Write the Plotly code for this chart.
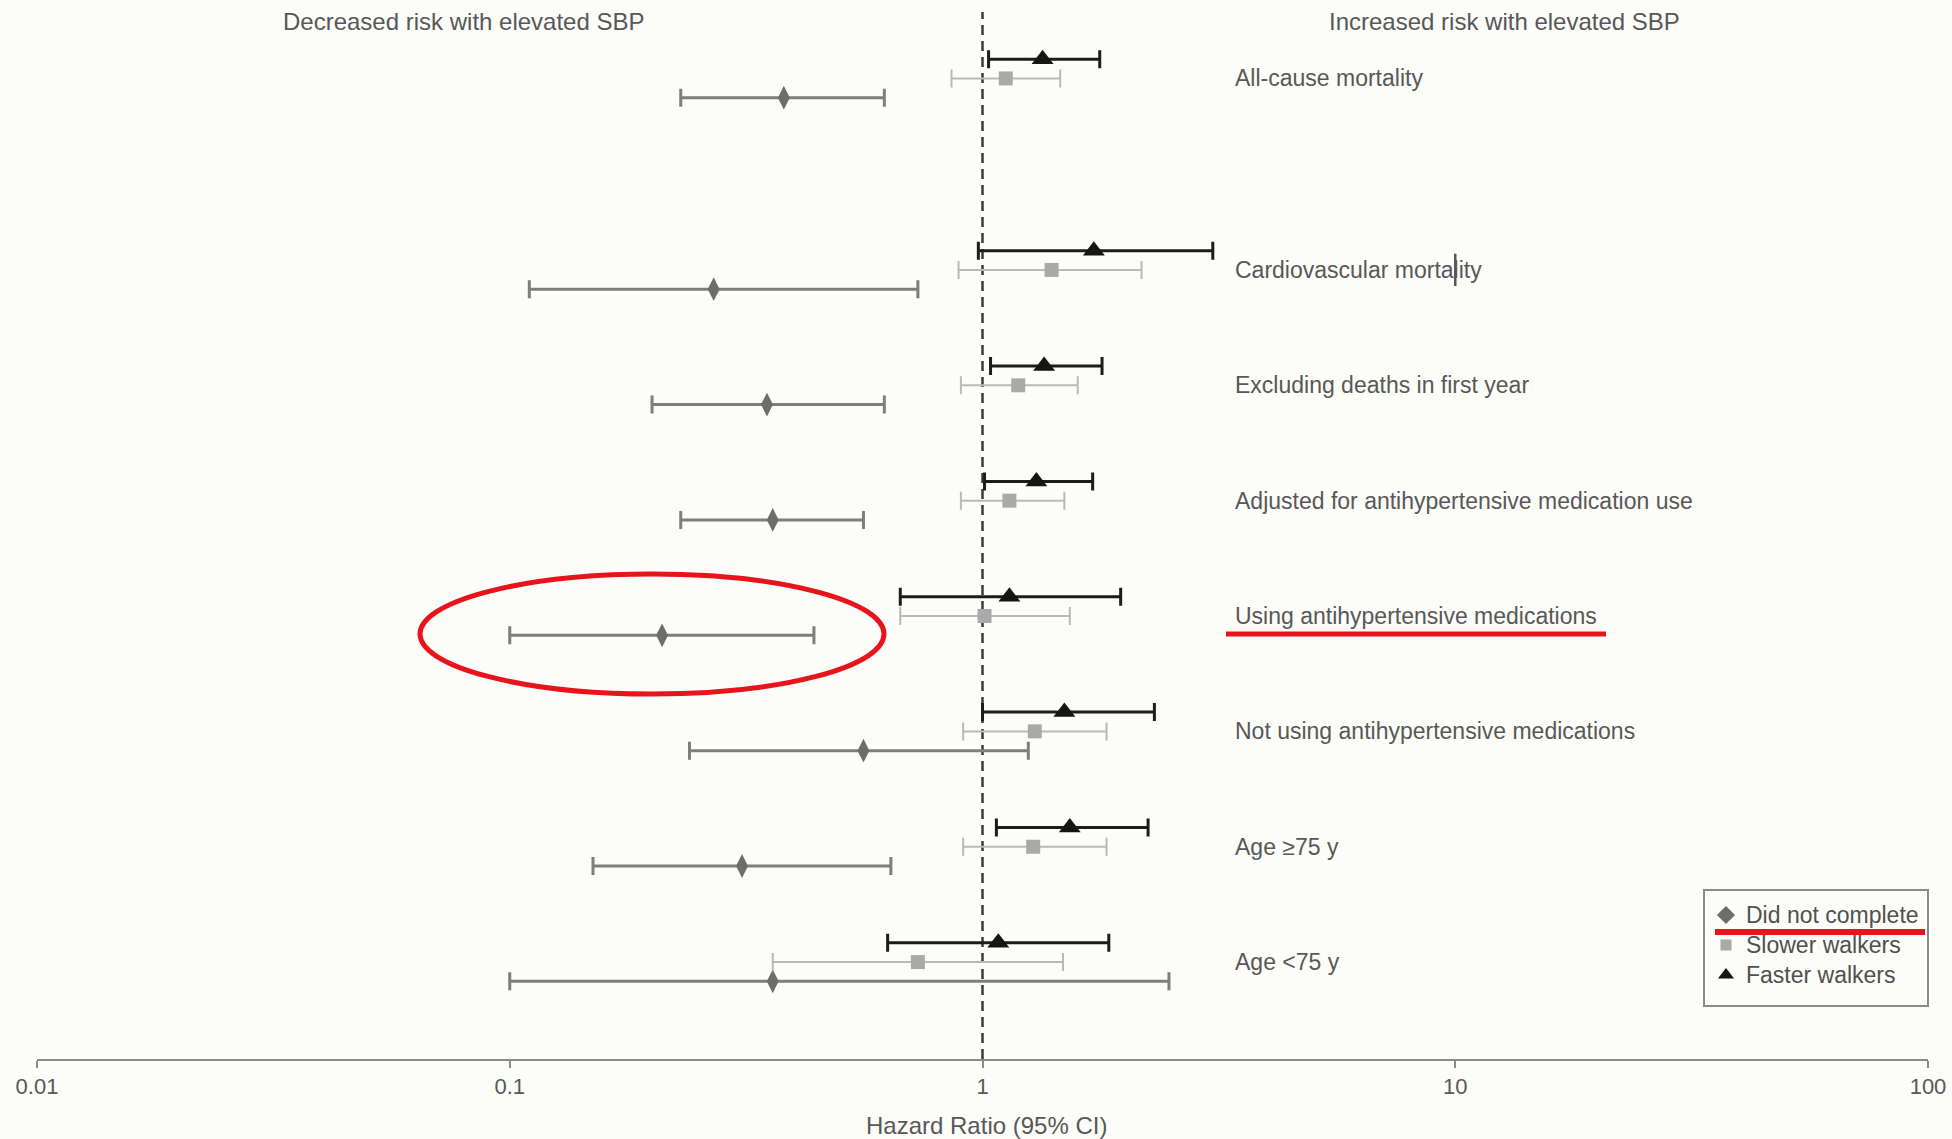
import plotly.graph_objects as go

# Subgroup analyses: hazard ratio of elevated SBP by gait-speed group
outcomes = [
    "All-cause mortality",
    "Cardiovascular mortality",
    "Excluding deaths in first year",
    "Adjusted for antihypertensive medication use",
    "Using antihypertensive medications",
    "Not using antihypertensive medications",
    "Age ≥75 y",
    "Age <75 y",
]

faster_hr = [1.34, 1.72, 1.35, 1.30, 1.14, 1.49, 1.53, 1.08]
faster_lo = [1.03, 0.98, 1.04, 1.01, 0.67, 1.00, 1.07, 0.63]
faster_hi = [1.77, 3.07, 1.79, 1.71, 1.96, 2.31, 2.24, 1.85]

slower_hr = [1.12, 1.40, 1.19, 1.14, 1.01, 1.29, 1.28, 0.73]
slower_lo = [0.86, 0.89, 0.90, 0.90, 0.67, 0.91, 0.91, 0.36]
slower_hi = [1.46, 2.17, 1.59, 1.49, 1.53, 1.83, 1.83, 1.48]

dnc_hr = [0.38, 0.27, 0.35, 0.36, 0.21, 0.56, 0.31, 0.36]
dnc_lo = [0.23, 0.11, 0.20, 0.23, 0.10, 0.24, 0.15, 0.10]
dnc_hi = [0.62, 0.73, 0.62, 0.56, 0.44, 1.25, 0.64, 2.48]

group_names = ["Did not complete", "Slower walkers", "Faster walkers"]

tick_vals = [0.01, 0.1, 1, 10, 100]
tick_text = ["0.01", "0.1", "1", "10", "100"]

# vertical layout of the outcome rows (row units, top to bottom)
row_pos = [0, 1.66, 2.66, 3.66, 4.66, 5.66, 6.66, 7.66]
OFF = 0.167

W, H = 1952, 1139
ML, MR, MT, MB = 37, 24, 0, 80
BG = "#fcfcf8"
TXT = "#585858"
FONT = "Liberation Sans, Arial, sans-serif"

# group styles: symbol, marker size, marker colour, bar colour, bar width, cap
styles = {
    "Did not complete": ("diamond-tall", 17, "#6b6e6a", "#7c7f7b", 3, 9),
    "Slower walkers": ("square", 14, "#a9a9a9", "#b9b9b9", 2, 9),
    "Faster walkers": ("triangle-up", 19, "#151515", "#1c1c1c", 3, 9),
}
legend_symbols = {"Did not complete": ("diamond", 14),
                  "Slower walkers": ("square", 11),
                  "Faster walkers": ("triangle-up", 14)}


def px_x(px):
    return min(1.0, max(0.0, (px - ML) / (W - ML - MR)))


def px_y(py):
    return min(1.0, max(0.0, 1 - (py - MT) / (H - MT - MB)))


def series(name, hr, lo, hi, dy):
    symbol, size, mcolor, ecolor, thick, cap = styles[name]
    return go.Scatter(
        name=name,
        x=hr,
        y=[p + dy for p in row_pos],
        mode="markers",
        marker=dict(symbol=symbol, size=size, color=mcolor, line=dict(width=0)),
        error_x=dict(
            type="data",
            symmetric=False,
            array=[h - m for h, m in zip(hi, hr)],
            arrayminus=[m - l for m, l in zip(hr, lo)],
            color=ecolor,
            thickness=thick,
            width=cap,
        ),
        showlegend=False,
        hoverinfo="skip",
    )


fig = go.Figure()
fig.add_trace(series("Did not complete", dnc_hr, dnc_lo, dnc_hi, OFF))
fig.add_trace(series("Slower walkers", slower_hr, slower_lo, slower_hi, 0))
fig.add_trace(series("Faster walkers", faster_hr, faster_lo, faster_hi, -OFF))

# reference line at HR = 1
fig.add_shape(type="line", xref="x", yref="paper", x0=1, x1=1,
              y0=0, y1=px_y(12),
              line=dict(color="#3a3a3a", width=2.5, dash="10px,6px"), layer="below")

# short stroke at HR = 10 beside the cardiovascular row
fig.add_shape(type="line", xref="x", yref="y", x0=10, x1=10,
              y0=row_pos[1] - 0.14, y1=row_pos[1] + 0.14,
              line=dict(color="#555555", width=2.5))

annotations = []
for name, p in zip(outcomes, row_pos):
    annotations.append(dict(text=name, xref="paper", yref="y", x=px_x(1233), y=p,
                            xanchor="left", yanchor="middle", showarrow=False,
                            font=dict(family=FONT, size=23, color=TXT)))

annotations += [
    dict(text="Decreased risk with elevated SBP", xref="paper", yref="paper",
         x=px_x(464), y=px_y(21), xanchor="center", yanchor="middle",
         showarrow=False, font=dict(family=FONT, size=24, color=TXT)),
    dict(text="Increased risk with elevated SBP", xref="paper", yref="paper",
         x=px_x(1504), y=px_y(21), xanchor="center", yanchor="middle",
         showarrow=False, font=dict(family=FONT, size=24, color=TXT)),
    dict(text="Hazard Ratio (95% CI)", xref="paper", yref="paper",
         x=px_x(986), y=-(1125 - (H - MB)) / (H - MT - MB), xanchor="center",
         yanchor="middle", showarrow=False,
         font=dict(family=FONT, size=24, color=TXT)),
]

# legend box drawn by hand so the highlight stroke can sit on top of it
LB_L, LB_R, LB_T, LB_B = 1704, 1928, 890, 1006
ITEM_Y0, ITEM_DY = 25, 30
fig.add_shape(type="rect", xref="paper", yref="paper",
              x0=px_x(LB_L), x1=px_x(LB_R), y0=px_y(LB_B), y1=px_y(LB_T),
              line=dict(color="#8a8a8a", width=2), fillcolor="rgba(0,0,0,0)",
              layer="above")
for i, name in enumerate(group_names):
    sym, sz = legend_symbols[name]
    fig.add_trace(go.Scatter(
        x=[22], y=[ITEM_Y0 + i * ITEM_DY], xaxis="x2", yaxis="y2",
        mode="markers", marker=dict(symbol=sym, size=sz, color=styles[name][2]),
        showlegend=False, hoverinfo="skip"))
    annotations.append(dict(text=name, xref="paper", yref="paper",
                            x=px_x(LB_L + 40), y=px_y(LB_T + ITEM_Y0 + i * ITEM_DY),
                            xanchor="left", yanchor="middle", showarrow=False,
                            font=dict(family=FONT, size=23, color="#505050")))

# red highlight marks
RED = "#e8141c"
fig.add_shape(type="circle", xref="paper", yref="paper",
              x0=px_x(420), x1=px_x(884), y0=px_y(694), y1=px_y(574),
              line=dict(color=RED, width=5))
fig.add_shape(type="line", xref="paper", yref="paper",
              x0=px_x(1226), x1=px_x(1606), y0=px_y(634), y1=px_y(634),
              line=dict(color=RED, width=5))
fig.add_shape(type="line", xref="paper", yref="paper",
              x0=px_x(1715), x1=px_x(1925), y0=px_y(932), y1=px_y(932),
              line=dict(color=RED, width=6))

fig.update_layout(
    width=W, height=H,
    margin=dict(l=ML, r=MR, t=MT, b=MB),
    paper_bgcolor=BG, plot_bgcolor=BG,
    font=dict(family=FONT, size=23, color=TXT),
    showlegend=False,
    annotations=annotations,
    xaxis=dict(
        type="log", range=[-2, 2],
        tickvals=tick_vals, ticktext=tick_text,
        showgrid=False, zeroline=False,
        showline=True, linecolor="#8a8a8a", linewidth=2,
        ticks="outside", ticklen=7, tickwidth=2, tickcolor="#8a8a8a",
        tickfont=dict(family=FONT, size=22, color=TXT),
    ),
    yaxis=dict(
        range=[8.50, -0.68],
        showgrid=False, zeroline=False, showline=False,
        showticklabels=False, ticks="",
    ),
    xaxis2=dict(domain=[px_x(LB_L), px_x(LB_R)], range=[0, LB_R - LB_L],
                anchor="y2", visible=False, fixedrange=True),
    yaxis2=dict(domain=[px_y(LB_B), px_y(LB_T)], range=[LB_B - LB_T, 0],
                anchor="x2", visible=False, fixedrange=True),
)

fig.write_html("out.html")
